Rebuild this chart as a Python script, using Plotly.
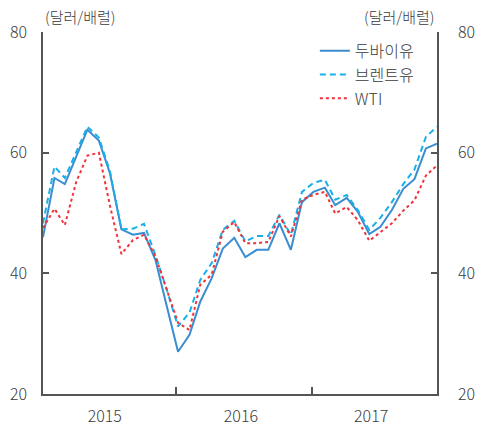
import plotly.graph_objects as go
import pandas as pd

# Monthly crude oil prices, Jan 2015 - Dec 2017 (USD per barrel)
months = pd.date_range("2015-01-01", "2017-12-01", freq="MS")

dubai = [46.0, 55.8, 54.8, 59.3, 63.8, 62.0, 56.6, 47.3, 46.4, 46.7, 42.2, 34.7,
         27.0, 29.8, 35.3, 39.2, 44.1, 45.9, 42.7, 43.9, 43.9, 48.3, 43.9, 51.8,
         53.5, 54.2, 51.3, 52.5, 50.2, 46.5, 47.7, 50.5, 54.0, 55.6, 60.7, 61.5]

brent = [48.3, 57.7, 55.8, 60.0, 64.3, 62.5, 56.9, 47.3, 47.4, 48.2, 43.0, 37.4,
         31.2, 33.5, 38.9, 41.7, 47.2, 48.7, 45.3, 46.2, 46.2, 49.7, 46.4, 53.5,
         55.0, 55.5, 52.2, 53.0, 50.5, 47.2, 49.2, 51.8, 54.8, 57.2, 62.6, 64.3]

wti = [47.5, 50.7, 48.0, 55.2, 59.5, 60.0, 51.2, 43.2, 45.5, 46.4, 42.8, 37.2,
       31.8, 30.6, 38.1, 39.8, 46.9, 48.5, 45.0, 45.0, 45.2, 49.5, 46.1, 52.2,
       53.0, 53.5, 49.9, 51.0, 48.8, 45.4, 46.9, 48.3, 50.4, 52.1, 56.2, 57.9]

series_names = ["두바이유", "브렌트유", "WTI"]
year_labels = ["2015", "2016", "2017"]
year_label_pos = ["2015-06-17", "2016-06-19", "2017-06-06"]
year_breaks = ["2015-12-27", "2016-12-27"]
y_ticks = [20, 40, 60, 80]
unit_text = "(달러/배럴)"

FONT = "Noto Sans CJK KR"
TEXT = "#3a3a3a"
AXIS = "#555555"

fig = go.Figure()
fig.add_trace(go.Scatter(x=months, y=dubai, name=series_names[0], mode="lines",
                         line=dict(color="#3a8dd0", width=2)))
fig.add_trace(go.Scatter(x=months, y=brent, name=series_names[1], mode="lines",
                         line=dict(color="#17b0e8", width=2, dash="6px,4px")))
fig.add_trace(go.Scatter(x=months, y=wti, name=series_names[2], mode="lines",
                         line=dict(color="#f0323a", width=2, dash="dot")))

tick_font = dict(family=FONT, size=16, color=TEXT, weight=300)

axis_common = dict(range=[20, 80], tickvals=y_ticks, showgrid=False, zeroline=False,
                   showline=True, linecolor=AXIS, linewidth=1.5,
                   ticks="inside", ticklen=6, tickcolor=AXIS, tickwidth=1.5,
                   tickfont=tick_font, automargin=False)

fig.update_layout(
    width=482, height=427,
    margin=dict(l=43, r=45, t=32, b=33, autoexpand=False),
    paper_bgcolor="white", plot_bgcolor="white",
    font=dict(family=FONT, color=TEXT),
    xaxis=dict(range=[months[0], months[-1]], tickvals=year_label_pos, ticktext=year_labels,
               ticks="", showgrid=False, zeroline=False, automargin=False,
               showline=True, linecolor=AXIS, linewidth=1.5,
               tickfont=tick_font, ticklabelstandoff=7,
               minor=dict(tickvals=year_breaks, ticks="inside", ticklen=7,
                          tickcolor=AXIS, tickwidth=1.5, showgrid=False)),
    yaxis=dict(**axis_common, side="left", ticklabelstandoff=11),
    yaxis2=dict(**axis_common, side="right", overlaying="y", matches="y",
                ticklabelstandoff=16),
    legend=dict(x=0.69, y=0.995, xanchor="left", yanchor="top",
                bgcolor="rgba(0,0,0,0)",
                font=dict(family=FONT, size=16, color=TEXT, weight=300),
                tracegroupgap=0),
    showlegend=True,
)

# invisible trace so the right axis is drawn
fig.add_trace(go.Scatter(x=[months[0]], y=[None], yaxis="y2", showlegend=False,
                         hoverinfo="skip"))

for xpos, anchor in [(0.0, "left"), (1.0, "right")]:
    fig.add_annotation(text=unit_text, xref="paper", yref="paper", x=xpos, y=1.0,
                       xanchor=anchor, yanchor="bottom", yshift=3, showarrow=False,
                       font=dict(family=FONT, size=15, color=TEXT, weight=300))

fig.write_html("out.html")
